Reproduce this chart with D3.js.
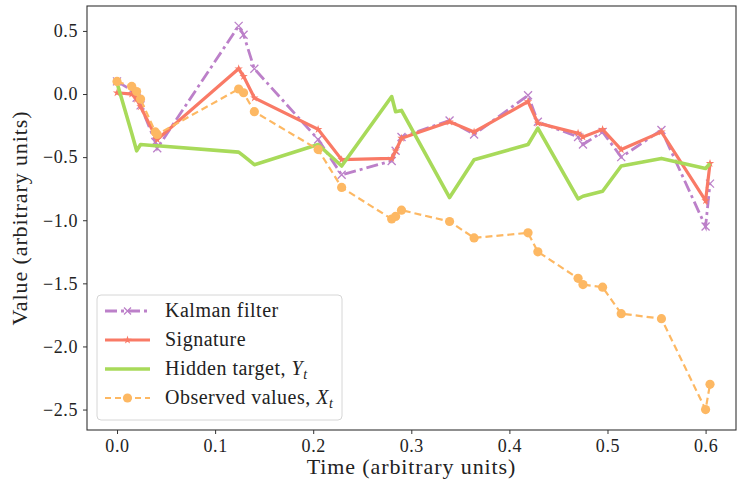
<!DOCTYPE html>
<html>
<head>
<meta charset="utf-8">
<script src="https://cdn.jsdelivr.net/npm/d3@7"></script>
<style>
  html, body { margin: 0; padding: 0; background: #fff; }
  svg { display: block; }
  text { font-family: "Liberation Serif", "DejaVu Serif", serif; fill: #222; }
</style>
</head>
<body>
<svg id="chart" width="737" height="483"></svg>
<script>
// Observation times shared by every series
const times = [0, 0.015, 0.020, 0.024, 0.039, 0.041, 0.124, 0.129, 0.140, 0.205, 0.229,
  0.280, 0.284, 0.290, 0.339, 0.364, 0.419, 0.429, 0.470, 0.475, 0.495, 0.514, 0.555, 0.600, 0.6045];

const kalman = [0.10, 0.03, -0.03, -0.09, -0.38, -0.43, 0.54, 0.47, 0.20, -0.36, -0.64,
  -0.53, -0.45, -0.34, -0.21, -0.32, -0.01, -0.22, -0.34, -0.40, -0.30, -0.50, -0.285, -1.05, -0.71];

const signature = [0.01, 0.00, -0.04, -0.10, -0.33, -0.36, 0.20, 0.14, -0.03, -0.28, -0.52,
  -0.51, -0.45, -0.35, -0.22, -0.30, -0.06, -0.23, -0.31, -0.34, -0.28, -0.44, -0.30, -0.845, -0.55];

const hidden = [0.09, -0.31, -0.45, -0.40, -0.41, -0.41, -0.46, -0.49, -0.56, -0.40, -0.57,
  -0.02, -0.14, -0.13, -0.82, -0.52, -0.40, -0.27, -0.83, -0.81, -0.77, -0.57, -0.51, -0.59, -0.55];

const observed = [0.10, 0.06, 0.02, -0.04, -0.30, -0.32, 0.04, 0.01, -0.14, -0.44, -0.74,
  -0.99, -0.97, -0.92, -1.01, -1.14, -1.10, -1.25, -1.46, -1.51, -1.53, -1.74, -1.78, -2.50, -2.30];

const xTicks = [0.0, 0.1, 0.2, 0.3, 0.4, 0.5, 0.6];
const yTicks = [0.5, 0.0, -0.5, -1.0, -1.5, -2.0, -2.5];

const seriesNames = ["Kalman filter", "Signature", "Hidden target, ", "Observed values, "];
const seriesSubs = [null, null, ["Y", "t"], ["X", "t"]];

const colors = {
  kalman: "#bc80c9",
  signature: "#f97a66",
  hidden: "#a8da5a",
  observed: "#fdb863"
};

const svg = d3.select("#chart");
const plot = { left: 87, right: 736, top: 6, bottom: 430 };

const x = d3.scaleLinear().domain([-0.0306, 0.6310]).range([plot.left, plot.right]);
const y = d3.scaleLinear().domain([0.6975, -2.662]).range([plot.top, plot.bottom]);

const fmt = d3.format(".1f");

// Axes
const xAxis = svg.append("g")
  .attr("transform", `translate(0,${plot.bottom})`)
  .call(d3.axisBottom(x).tickValues(xTicks).tickFormat(fmt).tickSize(4).tickPadding(5));
const yAxis = svg.append("g")
  .attr("transform", `translate(${plot.left},0)`)
  .call(d3.axisLeft(y).tickValues(yTicks).tickFormat(fmt).tickSize(4).tickPadding(5));

[xAxis, yAxis].forEach(g => {
  g.select(".domain").remove();
  g.selectAll(".tick line").attr("stroke", "#333").attr("stroke-width", 1);
  g.selectAll(".tick text").style("font-size", "18px").style("letter-spacing", "0.6px")
    .style("font-family", "'Liberation Serif', serif").attr("fill", "#222");
});

// Frame
svg.append("rect")
  .attr("x", plot.left).attr("y", plot.top)
  .attr("width", plot.right - plot.left).attr("height", plot.bottom - plot.top)
  .attr("fill", "none").attr("stroke", "#333").attr("stroke-width", 1.1);

// Axis titles
svg.append("text")
  .attr("x", (plot.left + plot.right) / 2).attr("y", 474)
  .attr("text-anchor", "middle").style("font-size", "22px").style("letter-spacing", "0.9px")
  .text("Time (arbitrary units)");
svg.append("text")
  .attr("transform", `translate(27,${(plot.top + plot.bottom) / 2}) rotate(-90)`)
  .attr("text-anchor", "middle").style("font-size", "22px").style("letter-spacing", "0.9px")
  .text("Value (arbitrary units)");

svg.append("defs").append("clipPath").attr("id", "clip")
  .append("rect").attr("x", plot.left).attr("y", plot.top)
  .attr("width", plot.right - plot.left).attr("height", plot.bottom - plot.top);

const layer = svg.append("g").attr("clip-path", "url(#clip)");

const line = d3.line().x(d => x(d[0])).y(d => y(d[1]));
const pts = vals => times.map((t, i) => [t, vals[i]]);

const crossPath = s => `M${-s},${-s}L${s},${s}M${-s},${s}L${s},${-s}`;
const star = d3.symbol().type(d3.symbolStar).size(22);

// Kalman filter: dash-dot with x markers
layer.append("path").datum(pts(kalman))
  .attr("d", line).attr("fill", "none")
  .attr("stroke", colors.kalman).attr("stroke-width", 2.8)
  .attr("stroke-dasharray", "12,4,3,4");
layer.selectAll(".kx").data(pts(kalman)).join("path")
  .attr("transform", d => `translate(${x(d[0])},${y(d[1])})`)
  .attr("d", crossPath(4)).attr("stroke", colors.kalman).attr("stroke-width", 1.3).attr("fill", "none");

// Signature: solid with small star markers
layer.append("path").datum(pts(signature))
  .attr("d", line).attr("fill", "none")
  .attr("stroke", colors.signature).attr("stroke-width", 3.2);
layer.selectAll(".sx").data(pts(signature)).join("path")
  .attr("transform", d => `translate(${x(d[0])},${y(d[1])})`)
  .attr("d", star).attr("fill", colors.signature);

// Hidden target: thick solid line
layer.append("path").datum(pts(hidden))
  .attr("d", line).attr("fill", "none")
  .attr("stroke", colors.hidden).attr("stroke-width", 3.6)
  .attr("stroke-linejoin", "round");

// Observed values: dashed with circles
layer.append("path").datum(pts(observed))
  .attr("d", line).attr("fill", "none")
  .attr("stroke", colors.observed).attr("stroke-width", 2.2)
  .attr("stroke-dasharray", "7,4");
layer.selectAll(".ox").data(pts(observed)).join("circle")
  .attr("cx", d => x(d[0])).attr("cy", d => y(d[1])).attr("r", 4.6)
  .attr("fill", colors.observed);

// Legend
const lg = svg.append("g");
lg.append("rect")
  .attr("x", 97).attr("y", 295).attr("width", 245).attr("height", 125)
  .attr("rx", 4).attr("fill", "#fff").attr("fill-opacity", 0.85)
  .attr("stroke", "#d6d6d6").attr("stroke-width", 1);

const rowY = [311, 340, 369, 398];
const hx0 = 105, hx1 = 150, hxm = 127.5;

// Kalman handle
lg.append("line").attr("x1", hx0).attr("x2", hx1).attr("y1", rowY[0]).attr("y2", rowY[0])
  .attr("stroke", colors.kalman).attr("stroke-width", 2.8).attr("stroke-dasharray", "12,4,3,4");
lg.append("path").attr("transform", `translate(${hxm},${rowY[0]})`)
  .attr("d", crossPath(3.5)).attr("stroke", colors.kalman).attr("stroke-width", 1.3);
// Signature handle
lg.append("line").attr("x1", hx0).attr("x2", hx1).attr("y1", rowY[1]).attr("y2", rowY[1])
  .attr("stroke", colors.signature).attr("stroke-width", 3.2);
lg.append("path").attr("transform", `translate(${hxm},${rowY[1]})`).attr("d", star).attr("fill", colors.signature);
// Hidden handle
lg.append("line").attr("x1", hx0).attr("x2", hx1).attr("y1", rowY[2]).attr("y2", rowY[2])
  .attr("stroke", colors.hidden).attr("stroke-width", 3.6);
// Observed handle
lg.append("line").attr("x1", hx0).attr("x2", hx1).attr("y1", rowY[3]).attr("y2", rowY[3])
  .attr("stroke", colors.observed).attr("stroke-width", 2.2).attr("stroke-dasharray", "6,4");
lg.append("circle").attr("cx", hxm).attr("cy", rowY[3]).attr("r", 4.6).attr("fill", colors.observed);

seriesNames.forEach((name, i) => {
  const t = lg.append("text").attr("x", 165).attr("y", rowY[i] + 6)
    .style("font-size", "20px").style("letter-spacing", "0.5px").text(name);
  const sub = seriesSubs[i];
  if (sub) {
    t.append("tspan").style("font-style", "italic").text(sub[0]);
    t.append("tspan").style("font-style", "italic").style("font-size", "14px").attr("dy", 4).text(sub[1]);
  }
});
</script>
</body>
</html>
